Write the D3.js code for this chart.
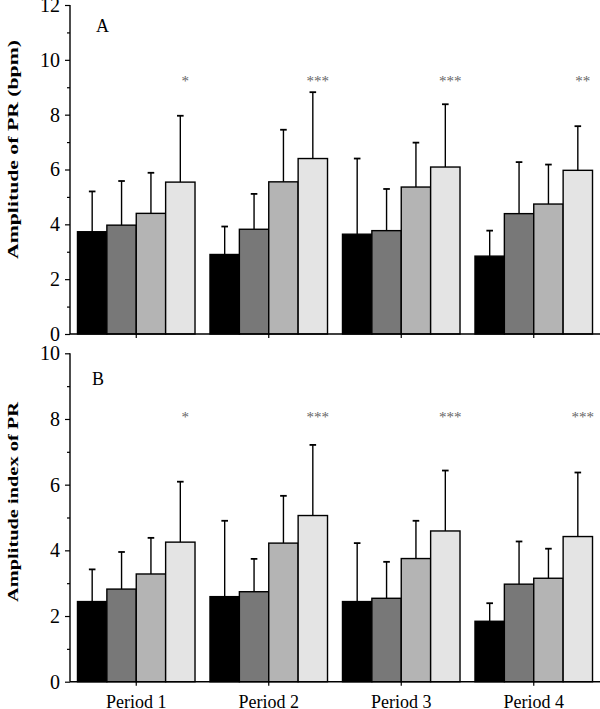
<!DOCTYPE html>
<html><head><meta charset="utf-8">
<script src="https://cdn.jsdelivr.net/npm/d3@7"></script>
<style>
body{margin:0;background:#fff;}
svg{display:block;}
text{font-family:"Liberation Serif","Times New Roman",serif;fill:#000;}
</style></head>
<body>
<svg id="c" width="600" height="709"></svg>
<script>
const periods = ["Period 1","Period 2","Period 3","Period 4"];
const seriesIdx = [0,1,2,3];
const colors = ["#000000","#787878","#b4b4b4","#e4e4e4"];

// Panel A: Amplitude of PR (bpm)
const meanA = [[3.73,3.97,4.40,5.54],[2.90,3.82,5.55,6.40],[3.64,3.77,5.36,6.09],[2.84,4.39,4.74,5.97]];
const errTopA = [[5.20,5.58,5.88,7.96],[3.92,5.11,7.45,8.82],[6.40,5.29,6.98,8.38],[3.77,6.27,6.18,7.58]];
const starsA = ["*","***","***","**"];
const ticksA = [0,2,4,6,8,10,12];
const minorA = [1,3,5,7,9,11];

// Panel B: Amplitude index of PR
const meanB = [[2.44,2.82,3.28,4.25],[2.59,2.74,4.22,5.06],[2.44,2.54,3.75,4.59],[1.84,2.97,3.15,4.42]];
const errTopB = [[3.42,3.95,4.38,6.09],[4.90,3.74,5.66,7.21],[4.22,3.65,4.90,6.43],[2.39,4.27,4.05,6.37]];
const starsB = ["*","***","***","***"];
const ticksB = [0,2,4,6,8,10];
const minorB = [1,3,5,7,9];

const svg = d3.select("#c");
const x0 = d3.scaleBand().domain(periods).range([70,600]).paddingInner(0.113).paddingOuter(0.0565);
const x1 = d3.scaleBand().domain(seriesIdx).range([0,x0.bandwidth()]);

function panel(cfg){
  const y = d3.scaleLinear().domain([0,cfg.max]).range([cfg.y0,cfg.y1]);
  const g = svg.append("g");
  // bars
  periods.forEach((p,i)=>{
    const gg = g.append("g").attr("transform",`translate(${x0(p)},0)`);
    seriesIdx.forEach(s=>{
      const bx = x1(s), bw = x1.bandwidth(), cx = bx+bw/2;
      gg.append("line").attr("x1",cx).attr("x2",cx)
        .attr("y1",y(cfg.mean[i][s])).attr("y2",y(cfg.err[i][s]))
        .attr("stroke","#000").attr("stroke-width",1.4);
      gg.append("line").attr("x1",cx-3.3).attr("x2",cx+3.3)
        .attr("y1",y(cfg.err[i][s])).attr("y2",y(cfg.err[i][s]))
        .attr("stroke","#000").attr("stroke-width",1.8);
      gg.append("rect").attr("x",bx).attr("width",bw)
        .attr("y",y(cfg.mean[i][s])).attr("height",y(0)-y(cfg.mean[i][s]))
        .attr("fill",colors[s]).attr("stroke","#000").attr("stroke-width",1.4);
    });
    gg.append("text").attr("x",x1(3)+x1.bandwidth()/2+5).attr("y",y(cfg.starY)+8)
      .attr("text-anchor","middle").style("font-size","15px").style("fill","#666666")
      .text(cfg.stars[i]);
  });
  // y axis
  const ya = g.append("g").attr("transform","translate(70,0)")
    .call(d3.axisLeft(y).tickValues(cfg.ticks).tickSize(5).tickPadding(5).tickFormat(d3.format("d")));
  ya.select(".domain").attr("stroke","#000").attr("stroke-width",1.4).attr("d",`M0,${cfg.y1}V${cfg.y0}`);
  ya.selectAll(".tick line").attr("stroke-width",1.2);
  ya.selectAll(".tick text").style("font-size","20px").style("font-family","'Liberation Serif',serif");
  const ym = g.append("g").attr("transform","translate(70,0)")
    .call(d3.axisLeft(y).tickValues(cfg.minor).tickSize(3).tickFormat(""));
  ym.select(".domain").remove();
  ym.selectAll(".tick line").attr("stroke-width",1.2);
  // x axis
  const xa = g.append("g").attr("transform",`translate(0,${cfg.y0})`)
    .call(d3.axisBottom(x0).tickSize(4).tickPadding(9.5).tickFormat(cfg.showX ? (d=>d) : ""));
  xa.select(".domain").attr("stroke","#000").attr("stroke-width",1.6).attr("d","M70,0H600");
  xa.selectAll(".tick line").attr("stroke-width",1.2);
  xa.selectAll(".tick text").style("font-size","18px").style("font-family","'Liberation Serif',serif");
  // axis title
  g.append("text").attr("transform",`translate(18,${cfg.titleY}) rotate(-90)`)
    .attr("text-anchor","middle").style("font-size","15px").style("font-weight","bold")
    .attr("textLength",cfg.titleLen).attr("lengthAdjust","spacingAndGlyphs")
    .text(cfg.title);
  g.append("text").attr("x",cfg.labX).attr("y",cfg.labY).style("font-size","18px").text(cfg.label);
}

panel({mean:meanA, err:errTopA, stars:starsA, ticks:ticksA, minor:minorA, max:12, y0:334, y1:5,
  starY:9.35, showX:false, title:"Amplitude of PR (bpm)", titleY:149.5, titleLen:219, label:"A", labX:96, labY:32});
panel({mean:meanB, err:errTopB, stars:starsB, ticks:ticksB, minor:minorB, max:10, y0:681.7, y1:353.3,
  starY:8.15, showX:true, title:"Amplitude index of PR", titleY:502, titleLen:200, label:"B", labX:92, labY:385});
</script>
</body></html>
